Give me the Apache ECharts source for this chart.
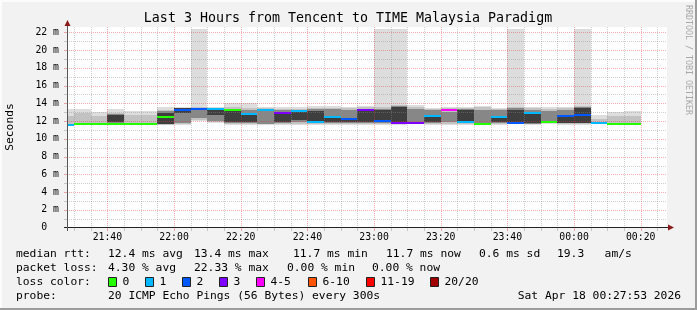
<!DOCTYPE html>
<html><head><meta charset="utf-8">
<script src="https://cdn.jsdelivr.net/npm/echarts@6/dist/echarts.min.js"></script>
<style>html,body{margin:0;padding:0;background:#f2f2f2}#c{width:697px;height:310px}</style>
</head><body><div id="c"></div>
<script>
// ---------------- data ----------------
const titleText = 'Last 3 Hours from Tencent to TIME Malaysia Paradigm';
const stepEnds = ['21:30','21:35','21:40','21:45','21:50','21:55','22:00','22:05','22:10','22:15','22:20','22:25',
  '22:30','22:35','22:40','22:45','22:50','22:55','23:00','23:05','23:10','23:15','23:20','23:25',
  '23:30','23:35','23:40','23:45','23:50','23:55','00:00','00:05','00:10','00:15','00:20'];
// median rtt (ms) per 5-minute step
const medians = [11.6,11.7,11.7,11.7,11.7,11.7,12.5,13.3,13.4,13.4,13.2,12.8,13.2,12.9,13.15,11.85,12.45,12.2,
  13.25,12.05,11.8,11.75,12.6,13.25,11.85,11.65,12.45,11.8,12.9,11.9,12.55,12.7,11.8,11.7,11.7];
// lost pings (of 20) per step
const lossCount = [1,0,0,0,0,0,0,2,2,1,0,1,1,3,1,1,1,2,3,2,3,3,1,4,1,0,1,2,1,0,2,2,1,0,0];
// smoke layers (ms): outer -> inner
const smokeLo1 = [11.6,11.6,11.65,11.6,11.65,11.65,11.55,11.6,12.0,11.8,11.6,11.6,11.6,11.6,11.6,11.6,11.6,11.6,11.6,11.6,11.6,11.7,11.6,11.6,11.6,11.6,11.6,11.7,11.6,11.7,11.6,11.6,11.7,11.65,11.65];
const smokeHi1 = [13.4,13.37,13.0,13.37,13.15,13.15,13.6,13.6,22.4,13.6,14.0,14.0,13.6,13.6,13.6,13.7,13.7,13.6,13.7,22.4,22.4,13.8,13.5,13.6,13.6,13.7,13.5,22.4,13.6,13.6,13.6,22.4,12.7,13.0,13.15];
const smokeLo2 = [11.65,11.7,11.7,11.75,11.7,11.7,11.6,11.7,12.1,11.9,11.7,11.7,11.65,11.7,11.65,11.7,11.7,11.7,11.7,11.7,11.7,11.75,11.7,11.7,11.7,11.65,11.7,11.75,11.65,11.75,11.7,11.7,11.75,11.7,11.7];
const smokeHi2 = [12.6,12.9,12.6,12.95,12.7,12.7,13.3,13.5,13.6,13.45,13.6,13.5,13.45,13.4,13.35,13.5,13.5,13.45,13.55,13.55,13.8,13.6,13.35,13.45,13.5,13.55,13.35,13.6,13.45,13.4,13.45,13.7,12.2,12.6,12.6];
const smokeLo3 = [null,null,null,11.8,null,null,11.65,11.8,12.35,12.0,11.75,11.75,11.7,11.75,11.9,11.75,11.8,11.8,11.8,11.75,11.75,11.8,11.8,11.9,11.75,11.7,11.8,11.8,11.7,11.8,11.75,11.75,null,null,null];
const smokeHi3 = [null,null,null,12.8,null,null,13.1,13.2,13.4,13.35,13.3,13.3,13.3,13.2,13.2,13.35,13.35,13.3,13.4,13.4,13.7,13.4,13.25,13.0,13.4,13.2,13.2,13.45,13.3,13.15,13.3,13.55,null,null,null];
const smokeLo4 = [null,null,null,11.85,null,null,11.7,12.9,null,12.7,11.85,11.85,null,11.85,12.1,11.9,11.85,11.85,11.9,11.85,11.8,null,11.9,null,11.9,null,11.9,11.9,11.8,null,11.8,11.8,null,null,null];
const smokeHi4 = [null,null,null,12.65,null,null,12.9,13.45,null,13.35,13.15,12.95,null,12.9,13.05,13.1,12.5,12.3,13.2,13.25,13.6,null,12.7,null,13.25,null,12.6,13.3,12.95,null,12.6,13.5,null,null,null];

const lossBins = ['0','1','2','3','4-5','6-10','11-19','20/20'];
const lossBinMax = [0,1,2,3,5,10,19,20];
const lossColors = ['#26ff00','#00b8ff','#0059ff','#7e00ff','#ff00ff','#ff5500','#ff0000','#a10000'];

const xTickLabels = ['21:40','22:00','22:20','22:40','23:00','23:20','23:40','00:00','00:20'];
const yTickValues = [0,2,4,6,8,10,12,14,16,18,20,22];

const medianLabel = 'median rtt:';
const medianStats = ['12.4 ms avg','13.4 ms max','11.7 ms min','11.7 ms now','0.6 ms sd','19.3   am/s'];
const lossLabel = 'packet loss:';
const lossStats = ['4.30 % avg','22.33 % max','0.00 % min','0.00 % now'];
const colorLabel = 'loss color:';
const probeLabel = 'probe:';
const probeText = '20 ICMP Echo Pings (56 Bytes) every 300s';
const stampText = 'Sat Apr 18 00:27:53 2026';
const yAxisName = 'Seconds';
const watermark = 'RRDTOOL / TOBI OETIKER';

// ---------------- layout / style ----------------
function toMin(s){ const p = s.split(':').map(Number); const h = p[0] < 12 ? p[0] + 24 : p[0]; return (h - 21) * 60 + p[1]; }
const X_MAX = toMin('00:27') + 53/60;
const X_MIN = X_MAX - 180;
const Y_MAX = 22.6;
const STEP = 5;
const MONO = "'DejaVu Sans Mono', monospace";
const G = {left:67, right:30, top:27, bottom:82.3};

const xMajor = xTickLabels.map(toMin);
const xMinor = [];
for (let t = Math.ceil(X_MIN / STEP) * STEP; t < X_MAX; t += STEP) if (xMajor.indexOf(t) < 0) xMinor.push(t);
const yMajor = yTickValues.filter(v => v > 0);
const yMinor = [];
for (let v = 1; v < Y_MAX; v += 2) yMinor.push(v);

const layers = [
  [smokeLo1, smokeHi1, '#dddddd'],
  [smokeLo2, smokeHi2, '#c2c2c2'],
  [smokeLo3, smokeHi3, '#878787'],
  [smokeLo4, smokeHi4, '#3e3e3e']
];
function binOf(n){ for (let i = 0; i < lossBinMax.length; i++) if (n <= lossBinMax[i]) return i; return lossBinMax.length - 1; }

const R = Math.round;
const smokeSeries = {
  type: 'custom', coordinateSystem: 'cartesian2d', silent: true, z: 1,
  data: stepEnds.map((t, i) => [toMin(t), smokeLo1[i], smokeHi1[i], i]),
  encode: {x: 0, y: [1, 2]},
  renderItem: function (params, api) {
    const i = api.value(3), t1 = api.value(0), t0 = Math.max(t1 - STEP, X_MIN);
    const children = [];
    layers.forEach(L => {
      if (L[0][i] == null) return;
      const a = api.coord([t0, L[1][i]]), b = api.coord([t1, L[0][i]]);
      const x0 = R(a[0]), x1 = R(b[0]), y0 = R(a[1]), y1 = R(b[1]);
      children.push({type: 'rect', shape: {x: x0, y: y0, width: x1 - x0, height: Math.max(1, y1 - y0)}, style: {fill: L[2]}});
    });
    return {type: 'group', children: children};
  }
};
const medianSeries = {
  type: 'custom', coordinateSystem: 'cartesian2d', silent: true, z: 5,
  data: stepEnds.map((t, i) => [toMin(t), medians[i], i]),
  encode: {x: 0, y: 1},
  renderItem: function (params, api) {
    const i = api.value(2), t1 = api.value(0), t0 = Math.max(t1 - STEP, X_MIN);
    const a = api.coord([t0, api.value(1)]), b = api.coord([t1, api.value(1)]);
    const x0 = R(a[0]), x1 = R(b[0]), y = R(a[1]);
    return {type: 'rect', shape: {x: x0, y: y - 1, width: x1 - x0, height: 2}, style: {fill: lossColors[binOf(lossCount[i])]}};
  }
};
function vGrid(vals, color, z){
  return {
    type: 'custom', coordinateSystem: 'cartesian2d', silent: true, z: z,
    data: vals.map(v => [v, 0]), encode: {x: 0, y: 1},
    renderItem: function (params, api) {
      const a = api.coord([api.value(0), 0]), b = api.coord([api.value(0), Y_MAX]);
      const x = R(a[0]) + 0.5;
      return {type: 'group', children: [
        {type: 'line', shape: {x1: x, y1: R(a[1]), x2: x, y2: R(b[1])}, style: {stroke: color, lineWidth: 1, lineDash: [1, 1]}},
        {type: 'line', shape: {x1: x, y1: R(a[1]), x2: x, y2: R(a[1]) + 3}, style: {stroke: color, lineWidth: 1}}
      ]};
    }
  };
}
function hGrid(vals, color, z){
  return {
    type: 'custom', coordinateSystem: 'cartesian2d', silent: true, z: z,
    data: vals.map(v => [X_MIN, v]), encode: {x: 0, y: 1},
    renderItem: function (params, api) {
      const a = api.coord([X_MIN, api.value(1)]), b = api.coord([X_MAX, api.value(1)]);
      const y = R(a[1]) + 0.5;
      return {type: 'group', children: [
        {type: 'line', shape: {x1: R(a[0]), y1: y, x2: R(b[0]), y2: y}, style: {stroke: color, lineWidth: 1, lineDash: [1, 1]}},
        {type: 'line', shape: {x1: R(a[0]) - 3, y1: y, x2: R(a[0]), y2: y}, style: {stroke: color, lineWidth: 1}}
      ]};
    }
  };
}
const GRAY = 'rgba(140,140,140,0.42)', RED = 'rgba(225,60,60,0.42)';

// ---------------- graphics (text, frame, axes) ----------------
const gfx = [];
function txt(s, x, y, size, align, extra){
  gfx.push(Object.assign({type: 'text', silent: true, z: 100,
    style: {text: s, x: x, y: y, font: size + 'px ' + MONO, fill: '#000', textAlign: align || 'left', textVerticalAlign: 'middle'}}, extra || {}));
}
// frame
gfx.push({type: 'rect', silent: true, z: 90, shape: {x: 0, y: 0, width: 697, height: 2}, style: {fill: '#fcfcfc'}});
gfx.push({type: 'rect', silent: true, z: 90, shape: {x: 0, y: 0, width: 2, height: 310}, style: {fill: '#fcfcfc'}});
gfx.push({type: 'rect', silent: true, z: 90, shape: {x: 0, y: 308, width: 697, height: 2}, style: {fill: '#9c9c9c'}});
gfx.push({type: 'rect', silent: true, z: 90, shape: {x: 695, y: 0, width: 2, height: 310}, style: {fill: '#9c9c9c'}});
// axes
gfx.push({type: 'line', silent: true, z: 95, shape: {x1: 64, y1: 227.5, x2: 670, y2: 227.5}, style: {stroke: '#222', lineWidth: 1}});
gfx.push({type: 'line', silent: true, z: 95, shape: {x1: 67.5, y1: 231, x2: 67.5, y2: 24}, style: {stroke: '#555', lineWidth: 1}});
gfx.push({type: 'polygon', silent: true, z: 96, shape: {points: [[668, 224.5], [674, 227.5], [668, 230.5]]}, style: {fill: '#8b1a1a'}});
gfx.push({type: 'polygon', silent: true, z: 96, shape: {points: [[64.5, 26], [67.5, 20], [70.5, 26]]}, style: {fill: '#8b1a1a'}});
// title, watermark, axis name
txt(titleText, 348, 19, 13.3, 'center');
gfx.push({type: 'text', silent: true, z: 100, x: 688, y: 60, rotation: -Math.PI / 2,
  style: {text: watermark, x: 0, y: 0, font: '8.3px ' + MONO, fill: '#a8a8a8', textAlign: 'center', textVerticalAlign: 'middle'}});
gfx.push({type: 'text', silent: true, z: 100, x: 10, y: 127, rotation: Math.PI / 2,
  style: {text: yAxisName, x: 0, y: 0, font: '11.3px ' + MONO, fill: '#000', textAlign: 'center', textVerticalAlign: 'middle'}});
// legend
const LF = 11.3;
const medX = [108, 194, 293, 386, 479, 557];
const lossX = [108, 194, 287, 372];
const boxX = [108, 145, 182, 219, 256, 308, 366, 430];
txt(medianLabel, 16, 254, LF);
medianStats.forEach((s, i) => txt(s, medX[i], 254, LF));
txt(lossLabel, 16, 268, LF);
lossStats.forEach((s, i) => txt(s, lossX[i], 268, LF));
txt(colorLabel, 16, 282, LF);
lossBins.forEach((s, i) => {
  gfx.push({type: 'rect', silent: true, z: 100, shape: {x: boxX[i] + 0.5, y: 277.5, width: 8, height: 9}, style: {fill: lossColors[i], stroke: '#222', lineWidth: 1}});
  txt(s, boxX[i] + 14.5, 282, LF);
});
txt(probeLabel, 16, 296, LF);
txt(probeText, 108, 296, LF);
txt(stampText, 681, 296, LF, 'right');

// ---------------- chart ----------------
const chart = echarts.init(document.getElementById('c'), null, {renderer: 'canvas', width: 697, height: 310});
chart.setOption({
  animation: false,
  backgroundColor: '#f2f2f2',
  grid: Object.assign({show: true, backgroundColor: '#ffffff', borderWidth: 0}, G),
  xAxis: {
    type: 'value', min: X_MIN, max: X_MAX,
    axisLine: {show: false}, axisTick: {show: false}, splitLine: {show: false},
    axisLabel: {
      customValues: xMajor, margin: 5, color: '#000', fontFamily: MONO, fontSize: 9.8,
      formatter: v => { const k = xMajor.findIndex(m => Math.abs(m - v) < 0.01); return k >= 0 ? xTickLabels[k] : ''; }
    }
  },
  yAxis: {
    type: 'value', min: 0, max: Y_MAX,
    axisLine: {show: false}, axisTick: {show: false}, splitLine: {show: false},
    axisLabel: {
      customValues: yTickValues, margin: 8, color: '#000', fontFamily: MONO, fontSize: 9.8,
      formatter: v => v === 0 ? '0  ' : v + ' m'
    }
  },
  graphic: {elements: gfx},
  series: [
    smokeSeries,
    vGrid(xMinor, GRAY, 2), hGrid(yMinor, GRAY, 2),
    vGrid(xMajor, RED, 3), hGrid(yMajor, RED, 3),
    medianSeries
  ]
});
</script>
</body></html>
